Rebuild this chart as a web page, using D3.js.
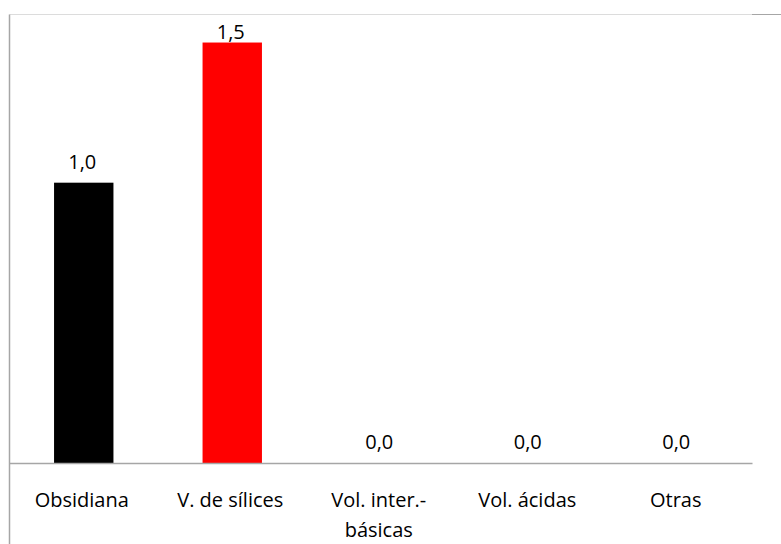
<!DOCTYPE html>
<html>
<head>
<meta charset="utf-8">
<script src="https://cdn.jsdelivr.net/npm/d3@7"></script>
<style>
  html, body { margin: 0; padding: 0; background: #fff; }
  svg { display: block; }
  text { font-family: "Open Sans", sans-serif; fill: #000; }
</style>
</head>
<body>
<svg id="chart" width="781" height="544"></svg>
<script>
// Rock types and their values
const categories = ["Obsidiana", "V. de sílices", "Vol. inter.-\nbásicas", "Vol. ácidas", "Otras"];
const values = [1.0, 1.5, 0.0, 0.0, 0.0];
const barColors = ["#000000", "#ff0000", "#4f81bd", "#4f81bd", "#4f81bd"];
const yDomain = [0, 1.6];

const svg = d3.select("#chart");
const plot = { left: 9.5, right: 752, top: 14.5, bottom: 463 };

const x = d3.scaleBand()
  .domain(categories)
  .range([plot.left, plot.right])
  .paddingInner(0.6)
  .paddingOuter(0.3);

const y = d3.scaleLinear()
  .domain(yDomain)
  .range([plot.bottom, plot.top]);

// Frame: light top border with a short darker stub at the right
svg.append("line")
  .attr("x1", plot.left).attr("x2", plot.right)
  .attr("y1", plot.top).attr("y2", plot.top)
  .attr("stroke", "#dcdcdc").attr("stroke-width", 1);
svg.append("line")
  .attr("x1", plot.right).attr("x2", 781)
  .attr("y1", plot.top).attr("y2", plot.top)
  .attr("stroke", "#a6a6a6").attr("stroke-width", 1);

// Left edge line running down to the bottom
svg.append("line")
  .attr("x1", plot.left).attr("x2", plot.left)
  .attr("y1", plot.top).attr("y2", 544)
  .attr("stroke", "#a6a6a6").attr("stroke-width", 1.5);

// Bars
svg.append("g").selectAll("rect")
  .data(values)
  .join("rect")
  .attr("x", (d, i) => x(categories[i]))
  .attr("width", x.bandwidth())
  .attr("y", d => y(d))
  .attr("height", d => y(0) - y(d))
  .attr("fill", (d, i) => barColors[i]);

// Category axis
const xAxis = svg.append("g")
  .attr("transform", `translate(0,${plot.bottom})`)
  .call(d3.axisBottom(x).tickSize(0).tickFormat(""));
xAxis.select(".domain").attr("stroke", "#a6a6a6").attr("stroke-width", 1.5);

// Category labels (multi-line where needed)
const fmt = d => d3.format(".1f")(d).replace(".", ",");
const catLabels = svg.append("g").selectAll("text")
  .data(categories)
  .join("text")
  .attr("text-anchor", "middle")
  .attr("font-size", 20)
  .attr("transform", d => `translate(${x(d) + x.bandwidth() / 2 - 2},${plot.bottom + 44})`);
catLabels.each(function(d) {
  const lines = d.split("\n");
  d3.select(this).selectAll("tspan")
    .data(lines)
    .join("tspan")
    .attr("x", 0)
    .attr("dy", (l, i) => i === 0 ? 0 : 30)
    .text(l => l);
});

// Value labels above bars, kept inside the plot area
svg.append("g").selectAll("text")
  .data(values)
  .join("text")
  .attr("text-anchor", "middle")
  .attr("font-size", 20)
  .attr("x", (d, i) => x(categories[i]) + x.bandwidth() / 2 - 1.5)
  .attr("y", d => Math.max(y(d) - 14, 39))
  .text(d => fmt(d));
</script>
</body>
</html>
